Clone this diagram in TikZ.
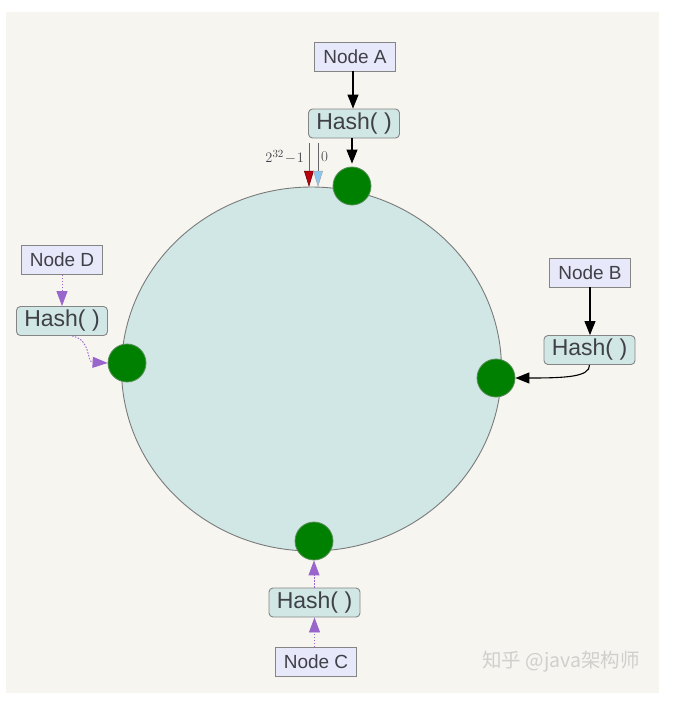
\documentclass[tikz,border=0pt]{standalone}
\usepackage{fontspec}
\newfontfamily\labelfont{Liberation Sans}
\newfontfamily\cjkfont{Noto Sans CJK SC}
\usetikzlibrary{arrows.meta}
\definecolor{panel}{HTML}{F6F5F0}
\definecolor{ringfill}{HTML}{D0E7E5}
\definecolor{ringline}{HTML}{7A7A7A}
\definecolor{nodefill}{HTML}{E8E8FB}
\definecolor{hashfill}{HTML}{D0E7E5}
\definecolor{boxline}{HTML}{858585}
\definecolor{txt}{HTML}{404048}
\definecolor{purp}{HTML}{9966CC}
\definecolor{dotgreen}{HTML}{008000}
\definecolor{dotline}{HTML}{5A8F5A}
\definecolor{wmark}{HTML}{CFCFCC}
\definecolor{zeroblue}{HTML}{8CC8F0}
\definecolor{maxred}{HTML}{B80010}
\tikzset{
  nodebox/.style={draw=boxline, fill=nodefill, line width=0.9pt, minimum width=81, minimum height=29, inner sep=0pt, text=txt, font=\labelfont\fontsize{19}{19}\selectfont},
  hashbox/.style={draw=boxline, fill=hashfill, line width=0.9pt, rounded corners=4pt, minimum width=91, minimum height=29, inner sep=0pt, text=txt, font=\labelfont\fontsize{23}{23}\selectfont},
  ringdot/.style={circle, minimum size=38, inner sep=0pt, fill=dotgreen, draw=dotline, line width=0.8pt},
  blackarrow/.style={line width=1.1pt, black, -{Triangle[length=14pt,width=11pt]}},
  purparrow/.style={line width=0.9pt, purp, dash pattern=on 1.5pt off 1.5pt, -{Triangle[length=15pt,width=11pt]}},
  marklabel/.style={text=txt, font=\fontsize{15}{15}\selectfont, inner sep=1pt}
}
\begin{document}
\begin{tikzpicture}[x=1pt,y=-1pt]
\useasboundingbox (0,0) rectangle (675,713);
\fill[white] (0,0) rectangle (675,713);
\fill[panel] (6,12) rectangle (659,693);
% ring
\draw[ringline, line width=0.9pt, fill=ringfill] (311.5,369) ellipse [x radius=190, y radius=182];
% markers for 2^32-1 and 0
\draw[gray!80!black, line width=0.7pt] (309,143) -- (309,171);
\draw[gray!80!black, line width=0.7pt] (318,143) -- (318,171);
\filldraw[fill=maxred, draw=red!40!black, line width=0.5pt] (304.3,171) -- (313.5,171) -- (309,186) -- cycle;
\filldraw[fill=zeroblue, draw=gray!70, line width=0.5pt] (313.5,171) -- (322.7,171) -- (318,186) -- cycle;
\node[marklabel, anchor=east] (lmax) at (305,157) {$2^{32}\!-\!1$};
\node[marklabel, anchor=west] (lzero) at (320,157) {0};
% nodes
\node[nodebox] (na) at (355,56.5) {Node A};
\node[hashbox] (ha) at (354,123.5) {Hash( )};
\node[nodebox] (nb) at (590,272.5) {Node B};
\node[hashbox] (hb) at (589.5,350) {Hash( )};
\node[nodebox] (nd) at (62,260) {Node D};
\node[hashbox] (hd) at (62,321) {Hash( )};
\node[hashbox] (hc) at (314.5,602.5) {Hash( )};
\node[nodebox] (nc) at (316,662) {Node C};
% ring positions
\node[ringdot] (da) at (352,186) {};
\node[ringdot] (db) at (496,378) {};
\node[ringdot] (dc) at (314,541) {};
\node[ringdot] (dd) at (127,363) {};
% connectors
\draw[blackarrow] (na.south -| 353,0) -- (ha.north -| 353,0);
\draw[blackarrow, shorten >=3pt] (ha.south -| da) -- (da.north);
\draw[blackarrow] (nb.south) -- (hb.north -| nb.south);
\draw[blackarrow] (hb.south) .. controls (590,377) and (565,378) .. (db.east);
\draw[purparrow] (nd.south) -- (hd.north);
\draw[purparrow] ([xshift=10pt]hd.south) .. controls (92,340) and (86,362) .. (dd.west);
\draw[purparrow] (nc.north -| hc) -- (hc.south);
\draw[purparrow] (hc.north -| dc) -- (dc.south);
% watermark
\node[text=wmark, font=\cjkfont\fontsize{19.5}{19.5}\selectfont, anchor=west, inner sep=0pt] (wm) at (482,662) {知乎 @java架构师};
\end{tikzpicture}
\end{document}
